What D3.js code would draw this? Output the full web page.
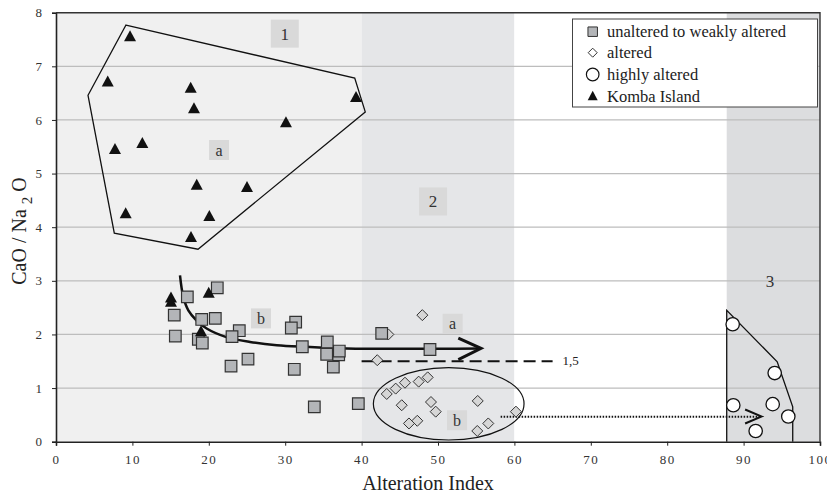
<!DOCTYPE html>
<html>
<head>
<meta charset="utf-8">
<style>
  body { margin: 0; background: #fff; }
  svg text { font-family: "Liberation Serif", "Times New Roman", serif; fill: #222; }
</style>
</head>
<body>
<div id="chart"></div>

<script src="https://d3js.org/d3.v7.min.js"></script>
<script>

	var w = 827, h = 496;

	// ---- data ----
	var komba = [
		[9.69, 7.55], [6.77, 6.71], [17.63, 6.59], [18.06, 6.21], [39.27, 6.42],
		[30.1, 5.95], [7.72, 5.45], [11.3, 5.56], [18.42, 4.78], [25.0, 4.74],
		[9.12, 4.25], [20.07, 4.2], [17.67, 3.81],
		[15.05, 2.68], [15.05, 2.6], [19.99, 2.77], [18.98, 2.05]
	];
	var unaltered = [
		[21.11, 2.87], [17.19, 2.70], [15.48, 2.36], [19.07, 2.28], [20.85, 2.30],
		[15.62, 1.97], [18.63, 1.91], [19.15, 1.84], [23.99, 2.07], [23.04, 1.96],
		[25.13, 1.54], [22.91, 1.41], [31.37, 2.23], [30.8, 2.12], [32.24, 1.77],
		[31.19, 1.35], [35.51, 1.86], [35.43, 1.63], [37.0, 1.62], [37.08, 1.69],
		[36.3, 1.39], [33.81, 0.65], [39.57, 0.71], [42.63, 2.02], [48.95, 1.72]
	];
	var altered = [
		[47.95, 2.36], [43.5, 2.0], [42.05, 1.52], [48.65, 1.20], [47.47, 1.12],
		[45.68, 1.10], [44.46, 0.99], [43.29, 0.89], [45.25, 0.68], [49.08, 0.74],
		[49.7, 0.56], [55.2, 0.76], [46.2, 0.34], [47.29, 0.39], [56.58, 0.34],
		[55.14, 0.20], [60.2, 0.56]
	];
	var highly = [
		[88.57, 2.19], [94.07, 1.28], [88.65, 0.68], [93.81, 0.70], [95.85, 0.47], [91.58, 0.20]
	];

	// fields (1a hull, 3 hull) and trend lines
	var hull1a = [[9.16, 7.77], [39.1, 6.78], [40.48, 6.15], [18.59, 3.59], [7.63, 3.89], [4.19, 6.46]];
	var hull3 = [[87.79, 0], [87.79, 2.45], [94.4, 1.49], [96.43, 0.65], [96.43, 0]];
	var trend2a = [[16.23, 3.10], [16.66, 2.70], [17.32, 2.45], [18.4, 2.26], [19.72, 2.11],
		[22.3, 1.95], [25.4, 1.86], [28.9, 1.80], [32.8, 1.77], [38.05, 1.74], [55.63, 1.74]];
	var zones = [[0, 40, "#f0f0f0"], [40, 60, "#e5e6e8"], [60, 87.79, "#ffffff"], [87.79, 100, "#dcdddf"]];
	var xTicks = [0, 10, 20, 30, 40, 50, 60, 70, 80, 90, 100];
	var yTicks = [0, 1, 2, 3, 4, 5, 6, 7, 8];
	var legendItems = ["unaltered to weakly altered", "altered", "highly altered", "Komba Island"];

	// ---- scales ----
	var x = d3.scaleLinear().domain([0, 100]).range([56, 820]);
	var y = d3.scaleLinear().domain([0, 8]).range([441.7, 12.7]);

	var svg = d3.select("#chart").append("svg")
		.attr("width", w).attr("height", h);

	// zone backgrounds
	svg.selectAll("rect.zone")
		.data(zones).enter().append("rect")
		.attr("class", "zone")
		.attr("x", function(d) { return x(d[0]); })
		.attr("width", function(d) { return x(d[1]) - x(d[0]); })
		.attr("y", y(8)).attr("height", y(0) - y(8))
		.attr("fill", function(d) { return d[2]; });

	// horizontal gridlines
	svg.selectAll("line.grid")
		.data(yTicks.slice(1, -1)).enter().append("line")
		.attr("class", "grid")
		.attr("x1", x(0)).attr("x2", x(100))
		.attr("y1", function(d) { return y(d); })
		.attr("y2", function(d) { return y(d); })
		.attr("stroke", "#bdbdbd").attr("stroke-width", 1.2);

	// label boxes + numbers/letters
	function tag(xv, yv, txt, size, box) {
		if (box) {
			svg.append("rect")
				.attr("x", x(xv) - box / 2).attr("y", y(yv) - box / 2)
				.attr("width", box).attr("height", box)
				.attr("fill", "#d9d9d9");
		}
		svg.append("text")
			.attr("x", x(xv)).attr("y", y(yv))
			.attr("dy", "0.35em")
			.attr("text-anchor", "middle")
			.attr("font-size", size)
			.style("fill", "#333")
			.text(txt);
	}
	tag(29.95, 7.61, "1", 17, 28);
	tag(21.34, 5.44, "a", 16, 20);
	tag(49.35, 4.48, "2", 17, 28);
	tag(93.46, 2.99, "3", 17, 0);
	tag(26.83, 2.30, "b", 16, 20);
	tag(51.92, 2.20, "a", 16, 20);
	tag(52.49, 0.40, "b", 16, 20);

	var line = d3.line().x(function(d) { return x(d[0]); }).y(function(d) { return y(d[1]); });

	// field outlines
	svg.append("path")
		.attr("d", line(hull1a) + "Z")
		.attr("fill", "none").attr("stroke", "#111").attr("stroke-width", 1.3);
	svg.append("path")
		.attr("d", line(hull3))
		.attr("fill", "none").attr("stroke", "#111").attr("stroke-width", 1.3);
	svg.append("ellipse")
		.attr("cx", x(51.4)).attr("cy", y(0.707))
		.attr("rx", x(9.86) - x(0)).attr("ry", y(0) - y(0.675))
		.attr("fill", "none").attr("stroke", "#111").attr("stroke-width", 1.2);

	// trend 2a with arrow
	svg.append("path")
		.attr("d", d3.line().curve(d3.curveCatmullRom)
			.x(function(d) { return x(d[0]); }).y(function(d) { return y(d[1]); })(trend2a))
		.attr("fill", "none").attr("stroke", "#111").attr("stroke-width", 2.5);
	svg.append("path")
		.attr("d", line([[52.66, 1.93], [55.63, 1.74], [52.66, 1.53]]))
		.attr("fill", "none").attr("stroke", "#111").attr("stroke-width", 3);

	// 1,5 dashed threshold
	svg.append("line")
		.attr("x1", x(40)).attr("x2", x(65))
		.attr("y1", y(1.5)).attr("y2", y(1.5))
		.attr("stroke", "#111").attr("stroke-width", 2)
		.attr("stroke-dasharray", "12,6");
	svg.append("text")
		.attr("x", x(66.3)).attr("y", y(1.5)).attr("dy", "0.3em")
		.attr("font-size", 13).text("1,5");

	// dotted arrow 2b -> 3
	svg.append("line")
		.attr("x1", x(58.2)).attr("x2", x(92.2))
		.attr("y1", y(0.465)).attr("y2", y(0.465))
		.attr("stroke", "#111").attr("stroke-width", 2)
		.attr("stroke-dasharray", "1.5,1.5");
	svg.append("path")
		.attr("d", line([[90.2, 0.60], [92.37, 0.47], [90.2, 0.34]]))
		.attr("fill", "none").attr("stroke", "#111").attr("stroke-width", 2);

	// ---- markers ----
	var sqSym = d3.symbol().type(d3.symbolSquare).size(135);
	var diaSym = "M0,-5.5L5.5,0L0,5.5L-5.5,0Z";
	var triSym = "M0,-6.5L6,4.5L-6,4.5Z";

	svg.selectAll("path.alt")
		.data(altered).enter().append("path")
		.attr("class", "alt")
		.attr("d", diaSym)
		.attr("transform", function(d) { return "translate(" + x(d[0]) + "," + y(d[1]) + ")"; })
		.attr("fill", "#d6d6d6").attr("stroke", "#333").attr("stroke-width", 1);

	svg.selectAll("path.sq")
		.data(unaltered).enter().append("path")
		.attr("class", "sq")
		.attr("d", sqSym)
		.attr("transform", function(d) { return "translate(" + x(d[0]) + "," + y(d[1]) + ")"; })
		.attr("fill", "#b3b5b8").attr("stroke", "#333").attr("stroke-width", 1.2);

	svg.selectAll("path.tri")
		.data(komba).enter().append("path")
		.attr("class", "tri")
		.attr("d", triSym)
		.attr("transform", function(d) { return "translate(" + x(d[0]) + "," + y(d[1]) + ")"; })
		.attr("fill", "#111");

	svg.selectAll("circle.hi")
		.data(highly).enter().append("circle")
		.attr("class", "hi")
		.attr("cx", function(d) { return x(d[0]); })
		.attr("cy", function(d) { return y(d[1]); })
		.attr("r", 6.7)
		.attr("fill", "#fff").attr("stroke", "#111").attr("stroke-width", 1.3);

	// ---- axes ----
	var xAxis = d3.axisBottom(x).tickValues(xTicks).tickSize(4).tickPadding(9);
	var yAxis = d3.axisLeft(y).tickValues(yTicks).tickSize(4).tickPadding(10);

	var gx = svg.append("g")
		.attr("transform", "translate(0," + y(0) + ")")
		.call(xAxis);
	gx.select(".domain").attr("stroke", "#222").attr("stroke-width", 1.6);
	gx.selectAll("line").attr("stroke", "#222");
	gx.selectAll("text")
		.attr("font-size", 13).attr("letter-spacing", "1.5px")
		.style("fill", "#333");

	var gy = svg.append("g")
		.attr("transform", "translate(" + x(0) + ",0)")
		.call(yAxis);
	gy.select(".domain").attr("stroke", "#222").attr("stroke-width", 1.6);
	gy.selectAll("line").attr("stroke", "#222");
	gy.selectAll("text")
		.attr("font-size", 13)
		.style("fill", "#333");

	// frame top & right
	svg.append("path")
		.attr("d", "M" + x(0) + "," + y(8) + "H" + x(100) + "V" + y(0))
		.attr("fill", "none").attr("stroke", "#333").attr("stroke-width", 1.4);

	// axis titles
	svg.append("text")
		.attr("x", 428).attr("y", 490)
		.attr("text-anchor", "middle")
		.attr("font-size", 20)
		.text("Alteration Index");

	var yt = svg.append("text")
		.attr("transform", "translate(26," + 231 + ") rotate(-90)")
		.attr("text-anchor", "middle")
		.attr("font-size", 20);
	yt.append("tspan").text("CaO / Na ");
	yt.append("tspan").attr("dy", 6).attr("font-size", 15).text("2");
	yt.append("tspan").attr("dy", -6).text(" O");

	// ---- legend ----
	var lg = svg.append("g");
	lg.append("rect")
		.attr("x", 572.5).attr("y", 19).attr("width", 245).attr("height", 88)
		.attr("fill", "#fff").attr("stroke", "#444").attr("stroke-width", 1);
	var ly = [31.7, 52.7, 74.5, 96.2];
	var lgSyms = [
		function(g) { g.append("path").attr("d", d3.symbol().type(d3.symbolSquare).size(90)).attr("fill", "#b3b5b8").attr("stroke", "#333"); },
		function(g) { g.append("path").attr("d", "M0,-4.5L4.5,0L0,4.5L-4.5,0Z").attr("fill", "#fff").attr("stroke", "#333"); },
		function(g) { g.append("circle").attr("r", 6.3).attr("fill", "#fff").attr("stroke", "#111").attr("stroke-width", 1.2); },
		function(g) { g.append("path").attr("d", "M0,-5.5L5,4L-5,4Z").attr("fill", "#111"); }
	];
	legendItems.forEach(function(t, i) {
		var g = lg.append("g").attr("transform", "translate(592.7," + ly[i] + ")");
		lgSyms[i](g);
		lg.append("text")
			.attr("x", 607).attr("y", ly[i]).attr("dy", "0.33em")
			.attr("font-size", 16.5)
			.text(t);
	});

</script>
</body>
</html>
